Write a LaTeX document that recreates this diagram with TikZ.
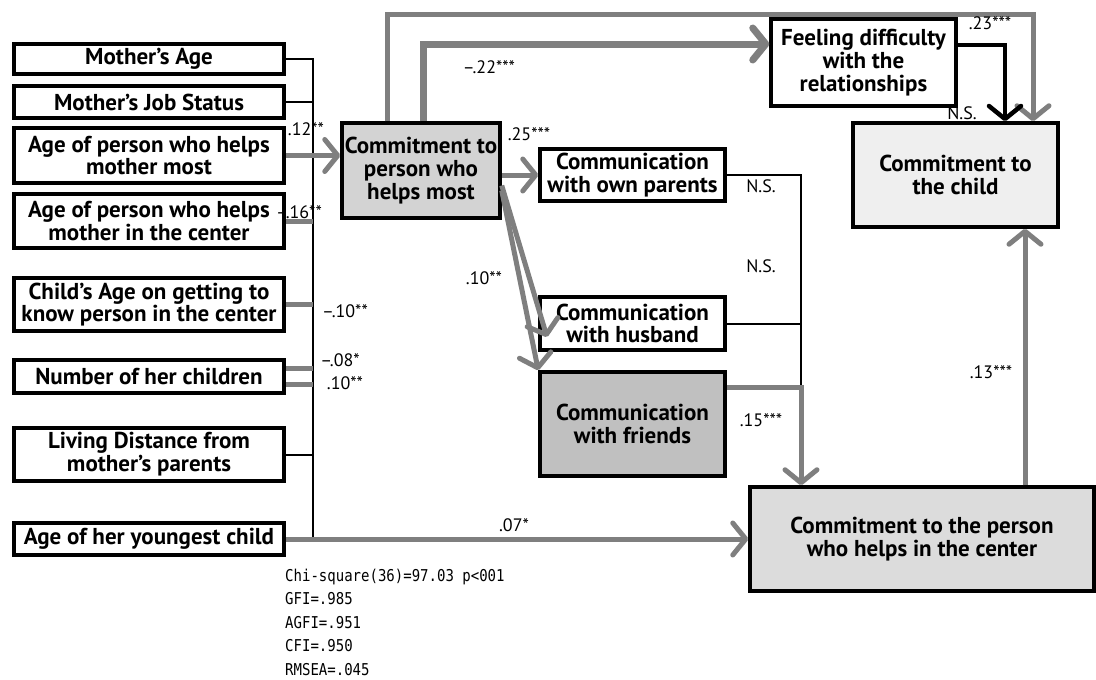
\documentclass[tikz,border=0pt]{standalone}
\usepackage{fontspec}
\setmainfont{PT Sans}
\newfontfamily\statfont[FakeStretch=0.86]{DejaVu Sans Mono}
\usetikzlibrary{arrows.meta}
\definecolor{gcol}{HTML}{7F7F7F}
\definecolor{fillA}{HTML}{D3D3D3}
\definecolor{fillB}{HTML}{C0C0C0}
\definecolor{fillC}{HTML}{EFEFEF}
\definecolor{fillD}{HTML}{DCDCDC}
\tikzset{
  box/.style={draw=black, line width=3.5pt, fill=white, align=center, inner sep=0pt,
    font=\fontsize{23}{22.8}\selectfont\bfseries},
  bline/.style={draw=black, line width=2pt},
  gline/.style={draw=gcol, line width=5pt},
  garrow/.style={draw=gcol, line width=5pt, -{Straight Barb[length=13pt,width=32pt,round]}},
  karrow/.style={draw=black, line width=4.5pt, -{Straight Barb[length=13pt,width=32pt,round]}},
  lbl/.style={inner sep=0pt, font=\fontsize{18}{20}\selectfont},
  stat/.style={inner sep=0pt, anchor=base west, font=\statfont\fontsize{16.3}{18}\selectfont},
}
\begin{document}
\begin{tikzpicture}[x=1pt, y=-1pt]
\useasboundingbox (0,0) rectangle (1096,680);

% predictor boxes
\node[box, minimum width=270pt, minimum height=30pt] (mage)   at (149,59)    {Mother’s Age};
\node[box, minimum width=270pt, minimum height=32pt] (mjob)   at (149,102)   {Mother’s Job Status};
\node[box, minimum width=270pt, minimum height=55pt] (amost)  at (149,155.5) {Age of person who helps\\mother most};
\node[box, minimum width=270pt, minimum height=54pt] (acent)  at (149,221)   {Age of person who helps\\mother in the center};
\node[box, minimum width=270pt, minimum height=53pt] (cage)   at (149,304.5) {Child’s Age on getting to\\know person in the center};
\node[box, minimum width=270pt, minimum height=33pt] (nchild) at (149,376.5) {Number of her children};
\node[box, minimum width=270pt, minimum height=53pt] (ldist)  at (149,454.5) {Living Distance from\\mother’s parents};
\node[box, minimum width=270pt, minimum height=32pt] (young)  at (149,539)   {Age of her youngest child};

% model boxes
\node[box, fill=fillA, minimum width=158pt, minimum height=95pt]  (cm)  at (421,170.5)  {Commitment to\\person who\\helps most};
\node[box, minimum width=185pt, minimum height=87pt]              (fd)  at (863.5,62.5) {Feeling difficulty\\with the\\relationships};
\node[box, fill=fillC, minimum width=205pt, minimum height=104pt] (cc)  at (955.5,175)  {Commitment to\\the child};
\node[box, minimum width=185pt, minimum height=52pt]              (op)  at (632.5,175)  {Communication\\with own parents};
\node[box, minimum width=185pt, minimum height=53pt]              (hb)  at (632.5,323.5){Communication\\with husband};
\node[box, fill=fillB, minimum width=185pt, minimum height=104pt] (fr)  at (632.5,424)  {Communication\\with friends};
\node[box, fill=fillD, minimum width=344pt, minimum height=104pt] (cct) at (922,539)    {Commitment to the person\\who helps in the center};

% routing points
\coordinate (bt) at (313,59);
\coordinate (bb) at (313,539);
\coordinate (n1) at (313,368);
\coordinate (n2) at (313,384);
\coordinate (t1) at (387,14);
\coordinate (t2) at (1033,14);
\coordinate (u1) at (423,44);
\coordinate (k1) at (1005,45);
\coordinate (r1) at (801,175);
\coordinate (r2) at (801,387);
\coordinate (v1) at (1025,0);
\coordinate (h1) at (547,337);

% left bus
\draw[bline] (mage.east) -- (bt) -- (bb);
\draw[bline] (mjob.east) -- (mjob.east -| bt);
\draw[bline] (ldist.east) -- (ldist.east -| bt);
\draw[gline] (acent.east) -- (acent.east -| bt);
\draw[gline] (cage.east) -- (cage.east -| bt);
\draw[gline] (n1 -| nchild.east) -- (n1);
\draw[gline] (n2 -| nchild.east) -- (n2);
\draw[garrow] (amost.east) -- (cm.west |- amost.east);
\draw[garrow] (young.east) -- (cct.west);

% paths out of the top of the central box
\draw[garrow] (cm.north -| t1) -- (t1) -- (t2) -- (cc.north -| t2);
\draw[garrow, line width=7pt] (cm.north -| u1) |- (fd.west |- u1);
\draw[karrow] (fd.east |- k1) -| (cc.north -| k1);

% communication paths
\draw[garrow] (cm.east |- op.west) -- (op.west);
\draw[garrow] ([yshift=-20pt]cm.east) -- (fr.north west);
\draw[garrow] ([yshift=-15pt]cm.east) -- (h1);

% right bus into the centre commitment
\draw[bline] (op.east) -- (r1) -- (r2);
\draw[bline] (hb.east) -- (hb.east -| r1);
\draw[garrow] (fr.east |- r2) -- (r2) -- (cct.north -| r2);
\draw[garrow] (cct.north -| v1) -- (cc.south -| v1);

% coefficients
\node[lbl] (c1)  at (306,129)   {.12**};
\node[lbl] (c2)  at (299,212)   {–.16**};
\node[lbl] (c3)  at (345,311)   {–.10**};
\node[lbl] (c4)  at (340,360)   {–.08*};
\node[lbl] (c5)  at (345,383)   {.10**};
\node[lbl] (c6)  at (489,67)    {–.22***};
\node[lbl] (c7)  at (529,134)   {.25***};
\node[lbl] (c8)  at (484,278)   {.10**};
\node[lbl] (c9)  at (761,186)   {N.S.};
\node[lbl] (c10) at (761,266)   {N.S.};
\node[lbl] (c11) at (761,420)   {.15***};
\node[lbl] (c12) at (991,372)   {.13***};
\node[lbl] (c13) at (514,525)   {.07*};
\node[lbl] (c14) at (990,23)    {.23***};
\node[lbl] (c15) at (962,113)   {N.S.};

% fit statistics
\node[stat] (s1) at (285,581) {Chi-square(36)=97.03 p<001};
\node[stat] (s2) at (285,604) {GFI=.985};
\node[stat] (s3) at (285,628) {AGFI=.951};
\node[stat] (s4) at (285,651) {CFI=.950};
\node[stat] (s5) at (285,675) {RMSEA=.045};
\end{tikzpicture}
\end{document}
